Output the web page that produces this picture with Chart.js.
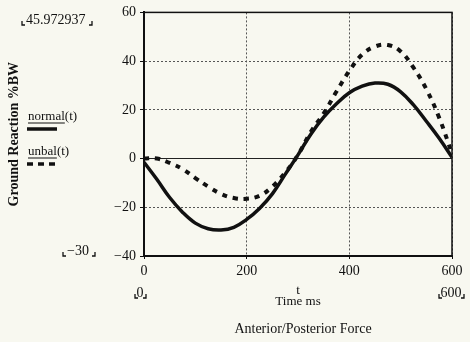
<!DOCTYPE html>
<html>
<head>
<meta charset="utf-8">
<script src="https://cdn.jsdelivr.net/npm/chart.js@4.4.1/dist/chart.umd.min.js"></script>
<style>
  html, body { margin: 0; padding: 0; background: #f8f8f0; }
  #wrap { width: 470px; height: 342px; }
</style>
</head>
<body>
<div id="wrap"><canvas id="body-chart-force" width="470" height="342"></canvas></div>
<script>
// time axis (ms) and the two traces
var timeMs = [0, 25, 50, 75, 100, 125, 150, 175, 200, 225, 250, 275, 300,
              325, 350, 375, 400, 425, 450, 475, 500, 525, 550, 575, 600];
var normalForce = [-1.5, -8.5, -16, -22, -26.5, -28.8, -29.3, -28.2, -25, -20.5, -14.5, -6.5, 1.5,
                   10, 17, 22.5, 27, 29.7, 31, 30.5, 27.4, 22, 15.3, 8.3, 0.5];
var unbalForce = [0, 0, -1.8, -4.3, -8, -11.5, -14.5, -16.2, -16.5, -15.3, -11.5, -5.8, 1.5,
                  11, 18.5, 27.5, 36, 42.7, 46, 46.6, 44, 37.3, 28.5, 16.8, 2];

var seriesNames = ['normal', 'unbal'];
var yTicksRange = [-40, 60, 20];
var xTicksRange = [0, 600, 200];
var yRangeLabels = ['45.972937', '-30'];
var xRangeLabels = ['0', '600'];
var yTitle = 'Ground Reaction %BW';
var xVar = 't';
var xTitle = 'Time ms';
var chartTitle = 'Anterior/Posterior Force';

var ink = '#111';
var serif = '"Liberation Serif", "DejaVu Serif", serif';

function pts(ys) {
  return timeMs.map(function (t, i) { return { x: t, y: ys[i] }; });
}
function minusSign(v) {
  return v < 0 ? '\u2212' + Math.abs(v) : '' + v;
}

// little mathcad style corner marks round a placeholder value
function corners(c, x1, x2, yb) {
  c.lineWidth = 1.3;
  c.beginPath();
  c.moveTo(x1, yb - 4); c.lineTo(x1, yb); c.lineTo(x1 + 3, yb);
  c.moveTo(x2, yb - 4); c.lineTo(x2, yb); c.lineTo(x2 - 3, yb);
  c.stroke();
}

var extras = {
  id: 'extras',
  afterDraw: function (chart) {
    var c = chart.ctx, a = chart.chartArea;
    c.save();
    c.strokeStyle = ink;
    c.fillStyle = ink;

    // plot frame
    c.lineWidth = 1.5;
    c.strokeRect(a.left, a.top, a.right - a.left, a.bottom - a.top);

    // range placeholders
    c.font = '14px ' + serif;
    c.textBaseline = 'alphabetic';
    c.textAlign = 'left';
    c.fillText(yRangeLabels[0], 26, 24);
    corners(c, 22, 92, 25);
    c.fillText(minusSign(Number(yRangeLabels[1])), 67, 255);
    corners(c, 63, 95, 256);
    c.textAlign = 'center';
    c.fillText(xRangeLabels[0], 140, 297);
    corners(c, 135, 146, 298);
    c.fillText(xRangeLabels[1], 451, 297);
    corners(c, 439, 464, 298);

    // x variable + title
    c.font = '13px ' + serif;
    var xc = (a.left + a.right) / 2;
    c.fillText(xVar, xc, 294);
    c.fillText(xTitle, xc, 305);
    c.font = '14px ' + serif;
    c.fillText(chartTitle, xc + 5, 333);

    // trace legend
    c.textAlign = 'left';
    c.font = '13px ' + serif;
    var names = [seriesNames[0] + '(' + xVar + ')', seriesNames[1] + '(' + xVar + ')'];
    var baseY = [120, 155];
    for (var i = 0; i < 2; i++) {
      c.fillText(names[i], 28, baseY[i]);
      var w = c.measureText(seriesNames[i]).width;
      c.lineWidth = 1;
      c.beginPath();
      c.moveTo(28, baseY[i] + 3); c.lineTo(28 + w, baseY[i] + 3);
      c.stroke();
      c.lineWidth = 3.5;
      c.setLineDash(i === 0 ? [] : [6, 5]);
      c.beginPath();
      c.moveTo(27, baseY[i] + 9); c.lineTo(57, baseY[i] + 9);
      c.stroke();
      c.setLineDash([]);
    }
    c.restore();
  }
};

var chart_force = new Chart(document.getElementById('body-chart-force'), {
  type: 'line',
  data: {
    datasets: [
      {
        label: seriesNames[0],
        data: pts(normalForce),
        borderColor: ink,
        borderWidth: 3.5,
        pointRadius: 0,
        tension: 0.4,
        fill: false
      },
      {
        label: seriesNames[1],
        data: pts(unbalForce),
        borderColor: ink,
        borderWidth: 4,
        borderDash: [5, 6],
        pointRadius: 0,
        tension: 0.4,
        fill: false
      }
    ]
  },
  options: {
    responsive: false,
    animation: false,
    devicePixelRatio: 1,
    layout: { padding: { left: 0, right: 18, top: 11, bottom: 56 } },
    plugins: { legend: { display: false }, tooltip: { enabled: false } },
    scales: {
      x: {
        type: 'linear',
        min: xTicksRange[0],
        max: xTicksRange[1],
        afterFit: function (s) { s.height = 30; },
        ticks: {
          stepSize: xTicksRange[2],
          color: ink,
          padding: 4,
          maxRotation: 0,
          font: { family: serif, size: 14 }
        },
        grid: {
          color: '#555',
          lineWidth: 1,
          tickLength: 3,
          tickColor: ink,
          tickBorderDash: []
        },
        border: {
          display: true,
          color: ink,
          width: 2,
          dash: function (ctx) { return ctx.type === 'tick' ? [2, 2] : []; }
        }
      },
      y: {
        min: yTicksRange[0],
        max: yTicksRange[1],
        afterFit: function (s) { s.width = 144; },
        title: {
          display: true,
          text: yTitle,
          color: ink,
          padding: { top: 6, bottom: 0 },
          font: { family: serif, size: 14, weight: 'bold' }
        },
        ticks: {
          stepSize: yTicksRange[2],
          color: ink,
          padding: 4,
          font: { family: serif, size: 14 },
          callback: function (v) { return minusSign(v); }
        },
        grid: {
          color: function (ctx) { return ctx.tick && ctx.tick.value === 0 ? '#222' : '#555'; },
          lineWidth: 1,
          tickLength: 4,
          tickColor: ink,
          tickBorderDash: []
        },
        border: {
          display: true,
          color: ink,
          width: 2,
          dash: function (ctx) {
            if (ctx.type !== 'tick') return [];
            return ctx.tick.value === 0 ? [] : [2, 2];
          }
        }
      }
    }
  },
  plugins: [extras]
});
</script>
</body>
</html>
